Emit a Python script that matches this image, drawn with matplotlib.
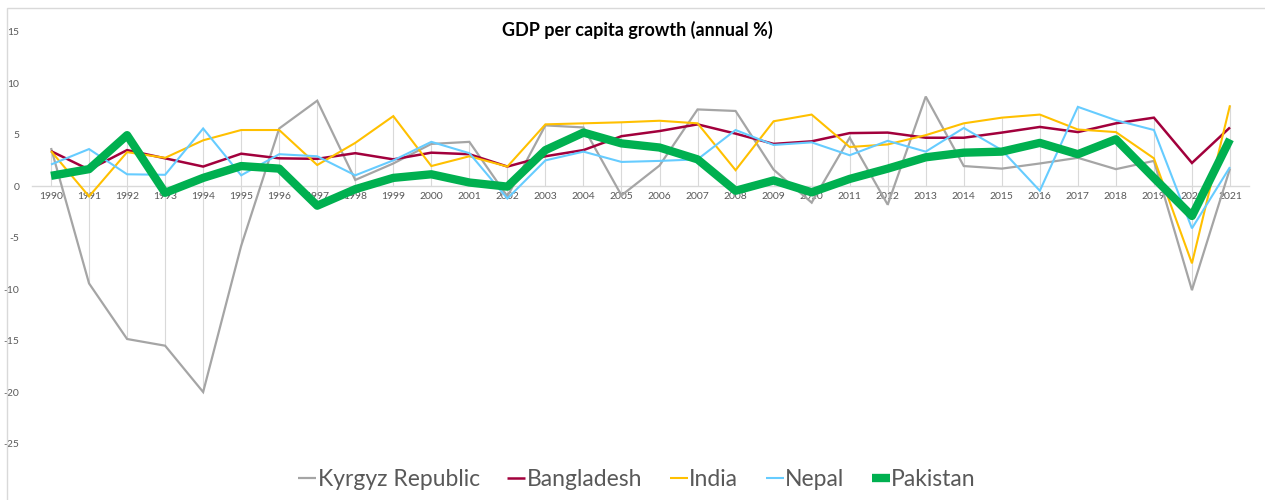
import matplotlib
matplotlib.use("Agg")
import matplotlib.pyplot as plt
from matplotlib.patches import Rectangle
import numpy as np

years = list(range(1990, 2022))

kyrgyz = [3.7, -9.45, -14.85, -15.5, -20.0, -5.8, 5.6, 8.3, 0.6, 2.2, 4.1, 4.3, -1.0, 5.9, 5.7, -0.9,
          2.0, 7.45, 7.3, 1.6, -1.6, 4.7, -1.8, 8.7, 1.95, 1.7, 2.2, 2.75, 1.65, 2.45, -10.1, 1.7]
bangladesh = [3.4, 1.6, 3.5, 2.7, 1.9, 3.15, 2.7, 2.65, 3.2, 2.6, 3.25, 3.1, 1.9, 2.9, 3.5, 4.85,
              5.35, 6.0, 5.1, 4.1, 4.35, 5.15, 5.2, 4.7, 4.7, 5.2, 5.75, 5.25, 6.1, 6.65, 2.25, 5.7]
india = [3.4, -1.0, 3.3, 2.75, 4.45, 5.45, 5.45, 2.05, 4.2, 6.8, 1.95, 2.9, 1.9, 6.0, 6.1, 6.2,
         6.35, 6.1, 1.55, 6.3, 6.95, 3.8, 4.05, 4.95, 6.1, 6.65, 6.95, 5.5, 5.25, 2.7, -7.5, 7.85]
nepal = [2.1, 3.6, 1.15, 1.1, 5.6, 1.05, 3.1, 2.9, 1.05, 2.5, 4.3, 3.2, -1.2, 2.5, 3.35, 2.35,
         2.45, 2.6, 5.45, 4.0, 4.25, 3.0, 4.4, 3.35, 5.65, 3.5, -0.45, 7.7, 6.4, 5.45, -4.1, 1.85]
pakistan = [1.0, 1.65, 4.95, -0.65, 0.8, 1.95, 1.7, -1.9, -0.3, 0.8, 1.15, 0.35, -0.05, 3.5, 5.2, 4.15,
            3.75, 2.6, -0.45, 0.55, -0.6, 0.7, 1.7, 2.8, 3.25, 3.35, 4.2, 3.1, 4.55, 0.8, -2.9, 4.55]

series = [
    ("Kyrgyz Republic", kyrgyz, "#A5A5A5", 1.6),
    ("Bangladesh", bangladesh, "#A2003C", 1.8),
    ("India", india, "#FFC000", 1.5),
    ("Nepal", nepal, "#66CCFF", 1.5),
    ("Pakistan", pakistan, "#00B050", 6.0),
]
title = "GDP per capita growth (annual %)"
yticks = [15, 10, 5, 0, -5, -10, -15, -20, -25]

W, H = 1265, 500
fig = plt.figure(figsize=(W / 100, H / 100), dpi=100)
plt.rcParams['font.family'] = ['Lato', 'DejaVu Sans']

# chart border (top & left visible)
fig.patches.append(Rectangle((7 / W, -0.1), 1.2, 1 - 8 / H + 0.1, transform=fig.transFigure,
                             fill=False, edgecolor="#D9D9D9", linewidth=1.0))

px_per_unit = (443.5 - 31.7) / 40.0
ymin, ymax = -30, 15
top_px = 31.7
bot_px = top_px + (ymax - ymin) * px_per_unit
ax = fig.add_axes([32 / W, 1 - bot_px / H, (1249 - 32) / W, (bot_px - top_px) / H])
ax.set_xlim(years[0] - 0.5, years[-1] + 0.5)
ax.set_ylim(ymin, ymax)
ax.patch.set_alpha(0)

# drop lines
allv = np.array([kyrgyz, bangladesh, india, nepal, pakistan])
lo = np.minimum(allv.min(axis=0), 0)
hi = np.maximum(allv.max(axis=0), 0)
ax.vlines(years, lo, hi, colors="#D9D9D9", linewidth=0.8, zorder=1)

for name, vals, col, lw in series:
    ax.plot(years, vals, color=col, linewidth=lw, label=name, zorder=3,
            solid_joinstyle="miter" if lw < 3 else "round", solid_capstyle="butt")

for s in ["top", "right", "left"]:
    ax.spines[s].set_visible(False)
ax.spines["bottom"].set_position(("data", 0))
ax.spines["bottom"].set_color("#D9D9D9")
ax.spines["bottom"].set_linewidth(1.0)
ax.spines["bottom"].set_zorder(1)

ax.set_xticks(years)
ax.set_xticklabels([str(y) for y in years], fontsize=7.5, color="#595959")
ax.set_yticks(yticks)
ax.set_yticklabels([str(t) for t in yticks], fontsize=7.5, color="#595959")
ax.tick_params(axis="x", length=0, pad=4)
ax.tick_params(axis="y", length=0, pad=9)

fig.text(637 / W, 1 - 30 / H, title, ha="center", va="center", fontsize=13,
         fontweight="bold", color="black")

fig.legend(loc="center", bbox_to_anchor=(637 / W, 1 - 480 / H), ncol=5, frameon=False,
           fontsize=16.5, handlelength=0.8, handletextpad=0.05, columnspacing=1.2,
           labelcolor="#595959")

fig.savefig("out.png", dpi=100)
